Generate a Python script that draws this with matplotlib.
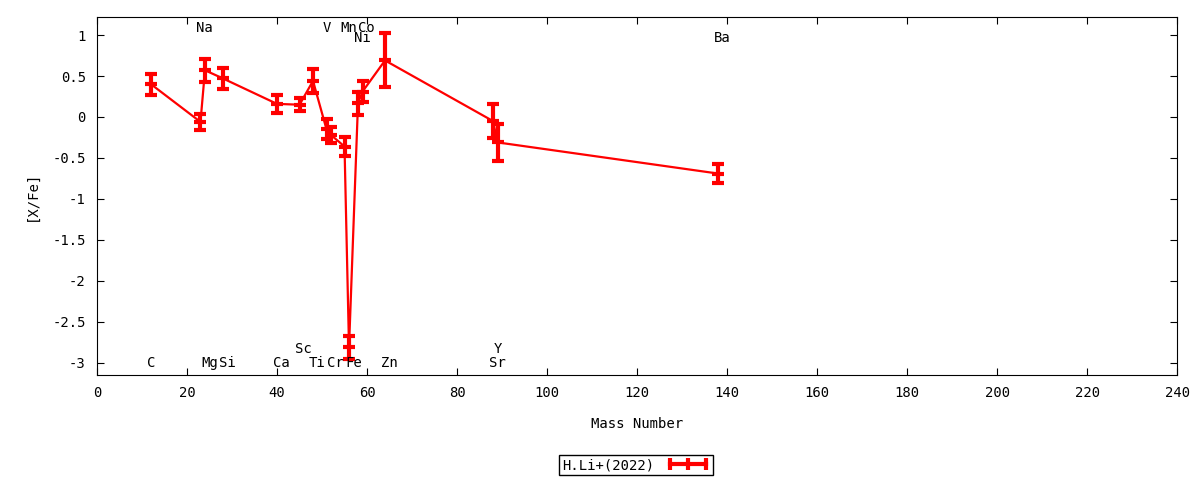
import numpy as np
import matplotlib.pyplot as plt
from matplotlib.lines import Line2D

plt.rcParams['font.family'] = ['DejaVu Sans Mono']
plt.rcParams['font.size'] = 10

# abundance data, sorted by mass number
mass = [12, 23, 24, 28, 40, 45, 48, 51, 52, 55, 56, 58, 59, 64, 88, 89, 138]
xfe = [0.40, -0.06, 0.57, 0.47, 0.16, 0.15, 0.44, -0.15, -0.22, -0.36, -2.81,
       0.17, 0.31, 0.69, -0.05, -0.31, -0.69]
err = [0.13, 0.10, 0.14, 0.13, 0.11, 0.08, 0.15, 0.12, 0.10, 0.12, 0.14,
       0.14, 0.13, 0.33, 0.21, 0.23, 0.12]

# element labels: name, mass, label height
lab_names = ['C', 'Na', 'Mg', 'Si', 'Ca', 'Sc', 'Ti', 'V', 'Cr', 'Mn', 'Fe',
             'Co', 'Ni', 'Zn', 'Sr', 'Y', 'Ba']
lab_mass = [12, 23, 24, 28, 40, 45, 48, 51, 52, 55, 56, 59, 58, 64, 88, 89, 138]
lab_y = [-3.0, 1.085, -3.0, -3.0, -3.0, -2.83, -3.0, 1.085, -3.0, 1.085, -3.0,
         1.085, 0.96, -3.0, -3.0, -2.83, 0.96]

fig = plt.figure(figsize=(12, 4.8), dpi=100)
ax = fig.add_axes([0.0808, 0.219, 0.9002, 0.7456])

ax.errorbar(mass, xfe, yerr=err, color='red', lw=1.6, elinewidth=3,
            capsize=4, capthick=3, marker='_', ms=8, mew=3)

for name, m, y in zip(lab_names, lab_mass, lab_y):
    ax.text(m - 0.9, y, name, ha='left', va='center', fontsize=10)

ax.set_xlim(0, 240)
ax.set_ylim(-3.146, 1.22)
ax.set_xticks(np.arange(0, 241, 20))
ax.set_yticks([1, 0.5, 0, -0.5, -1, -1.5, -2, -2.5, -3])
ax.set_yticklabels(['1', '0.5', '0', '-0.5', '-1', '-1.5', '-2', '-2.5', '-3'])
ax.tick_params(direction='in', length=5, top=True, right=True, pad=8)
ax.set_xlabel('Mass Number', labelpad=12)
ax.set_ylabel('[X/Fe]', labelpad=10)

# gnuplot-like key sample: thick line with end caps and a middle tick
key = Line2D([], [], color='red', lw=3, marker='|', ms=8, mew=3,
             label='H.Li+(2022)')
fig.legend(handles=[key], loc='center', bbox_to_anchor=(0.53, 0.031),
           markerfirst=False, fancybox=False, framealpha=1, numpoints=3,
           edgecolor='black', borderpad=0.2, handlelength=3.2)

fig.savefig('out.png')
